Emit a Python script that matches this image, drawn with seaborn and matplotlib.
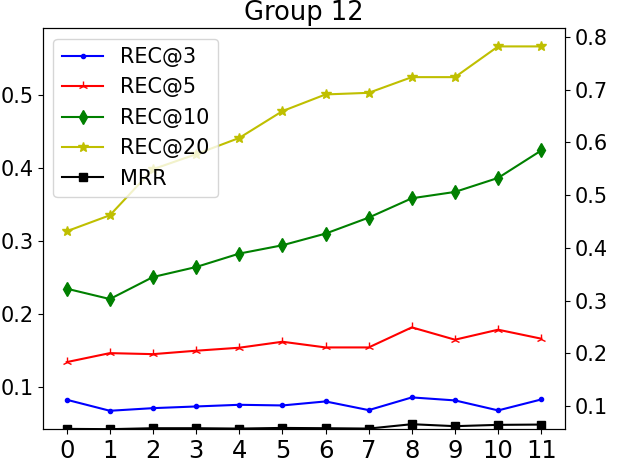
import matplotlib
matplotlib.use("Agg")
import matplotlib.pyplot as plt
import seaborn as sns
import numpy as np
import pandas as pd

plt.rcParams['font.family'] = ['DejaVu Sans']

groups = list(range(12))
rec3 = [0.0830, 0.0679, 0.0715, 0.0738, 0.0761, 0.0752, 0.0807, 0.0688, 0.0862, 0.0821, 0.0684, 0.0834]
rec5 = [0.1346, 0.1469, 0.1455, 0.1502, 0.1543, 0.1625, 0.1547, 0.1547, 0.1822, 0.1653, 0.1790, 0.1667]
rec10 = [0.2352, 0.2210, 0.2512, 0.2649, 0.2833, 0.2947, 0.3107, 0.3326, 0.3591, 0.3678, 0.3870, 0.4246]
rec20 = [0.3139, 0.3358, 0.3989, 0.4195, 0.4418, 0.4785, 0.5014, 0.5036, 0.5251, 0.5251, 0.5672, 0.5672]
mrr = [0.0431, 0.0427, 0.0440, 0.0440, 0.0435, 0.0444, 0.0440, 0.0435, 0.0495, 0.0468, 0.0486, 0.0490]
title = "Group 12"

series = [
    ("REC@3", rec3, "b", ".", 6),
    ("REC@5", rec5, "r", "2", 7),
    ("REC@10", rec10, "g", "d", 7),
    ("REC@20", rec20, "y", "*", 7),
    ("MRR", mrr, "k", "s", 6),
]

fig, ax = plt.subplots(figsize=(6.17, 4.68), dpi=100)
fig.subplots_adjust(left=0.0697, right=0.9157, top=0.9395, bottom=0.0833)

for name, vals, col, mk, ms in series:
    df = pd.DataFrame({"x": groups, "y": vals})
    sns.lineplot(data=df, x="x", y="y", ax=ax, color=col, marker=mk,
                 markersize=ms, markeredgecolor=col, markerfacecolor=col,
                 markeredgewidth=1.0, linewidth=1.5, label=name)

ax.set_ylim(0.0429, 0.592)
ax.set_xlim(-0.55, 11.55)
ax.set_xticks(groups)
ax.set_xticklabels([str(g) for g in groups], fontsize=17.5)
ax.set_yticks([0.1, 0.2, 0.3, 0.4, 0.5])
ax.set_yticklabels(["0.1", "0.2", "0.3", "0.4", "0.5"], fontsize=15)
ax.set_xlabel("")
ax.set_ylabel("")
ax.set_title(title, fontsize=18.5)

ax2 = ax.twinx()
ax2.set_ylim(0.0564, 0.816)
ax2.set_yticks([0.1, 0.2, 0.3, 0.4, 0.5, 0.6, 0.7, 0.8])
ax2.set_yticklabels(["0.1", "0.2", "0.3", "0.4", "0.5", "0.6", "0.7", "0.8"], fontsize=15)

ax.legend(loc="upper left", fontsize=15)

fig.savefig("out.png", dpi=100)
